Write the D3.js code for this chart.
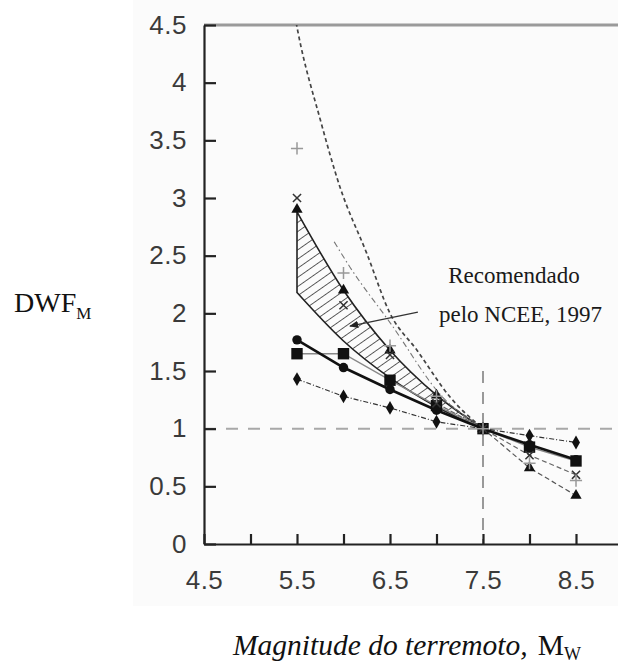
<!DOCTYPE html>
<html>
<head>
<meta charset="utf-8">
<script src="https://cdn.jsdelivr.net/npm/d3@7"></script>
<style>
  body { margin: 0; background: #fff; }
  svg { display: block; }
</style>
</head>
<body>
<div id="chart"></div>
<script>
// magnitudes where the symbols sit
const magnitudes = [5.5, 6.0, 6.5, 7.0, 7.5, 8.0, 8.5];

// series (DWF_M)
const circlesThick = [1.77, 1.53, 1.34, 1.16, 1.0, 0.86, 0.73];
const squares      = [1.65, 1.65, 1.42, 1.20, 1.0, 0.84, 0.72];
const diamonds     = [1.43, 1.28, 1.18, 1.06, 1.0, 0.94, 0.88];
const triangles    = [2.90, 2.20, 1.68, 1.29, 1.0, 0.66, 0.42];
const crosses      = [3.00, 2.07, 1.64, 1.22, 1.0, 0.77, 0.60];
const pluses       = [3.43, 2.35, 1.72, 1.28, 1.0, 0.70, 0.55];

// NCEE 1997 recommended band
const bandM     = [5.5, 6.0, 6.5, 7.0, 7.5];
const bandUpper = [2.88, 2.20, 1.68, 1.29, 1.0];
const bandLower = [2.18, 1.76, 1.44, 1.19, 1.0];

// the two dashed curves
const curveAM = [5.45, 5.51, 5.75, 5.96, 6.25, 6.5, 6.79, 7.15, 7.5];
const curveAV = [4.7, 4.44, 3.68, 3.10, 2.52, 2.0, 1.68, 1.27, 1.0];
const curveBM = [5.9, 6.07, 6.5, 7.07, 7.5];
const curveBV = [2.62, 2.40, 1.92, 1.27, 1.0];

const yTicks = [0, 0.5, 1, 1.5, 2, 2.5, 3, 3.5, 4, 4.5];
const xTicks = [4.5, 5, 5.5, 6, 6.5, 7, 7.5, 8, 8.5];
const xLabels = [4.5, 5.5, 6.5, 7.5, 8.5];

const width = 618, height = 666;

const svg = d3.select('#chart').append('svg')
    .attr('width', width)
    .attr('height', height);

const x = d3.scaleLinear().domain([4.5, 9]).range([204, 622.5]);
const y = d3.scaleLinear().domain([0, 4.5]).range([544, 25]);

// faint grey of the scanned plot
svg.append('rect')
    .attr('x', 133).attr('y', 0)
    .attr('width', width - 133).attr('height', 606)
    .attr('fill', '#fbfbfb');

const defs = svg.append('defs');
defs.append('clipPath').attr('id', 'plot')
  .append('rect')
    .attr('x', x(4.5)).attr('y', y(4.5))
    .attr('width', x(9) - x(4.5)).attr('height', y(0) - y(4.5));

defs.append('pattern')
    .attr('id', 'hatch')
    .attr('patternUnits', 'userSpaceOnUse')
    .attr('width', 7.5).attr('height', 8)
    .attr('patternTransform', 'rotate(55)')
  .append('line')
    .attr('x1', 0).attr('y1', 0).attr('x2', 0).attr('y2', 8)
    .attr('stroke', '#2a2a2a').attr('stroke-width', 1.5);

defs.append('marker')
    .attr('id', 'arrow')
    .attr('viewBox', '0 0 10 10')
    .attr('refX', 9).attr('refY', 5)
    .attr('markerWidth', 7).attr('markerHeight', 7)
    .attr('orient', 'auto')
  .append('path')
    .attr('d', 'M0,1 L10,5 L0,9 z')
    .attr('fill', '#222');

// top frame line
svg.append('line')
    .attr('x1', x(4.5)).attr('x2', width)
    .attr('y1', y(4.5)).attr('y2', y(4.5))
    .attr('stroke', '#9a9a9a').attr('stroke-width', 3);

// reference lines
svg.append('line')
    .attr('x1', x(4.5)).attr('x2', width)
    .attr('y1', y(1)).attr('y2', y(1))
    .attr('stroke', '#a8a8a8').attr('stroke-width', 2)
    .attr('stroke-dasharray', '12,10');
svg.append('line')
    .attr('x1', x(7.5)).attr('x2', x(7.5))
    .attr('y1', y(1.5)).attr('y2', y(0))
    .attr('stroke', '#999').attr('stroke-width', 2)
    .attr('stroke-dasharray', '12,9');

const plot = svg.append('g').attr('clip-path', 'url(#plot)');

const smooth = d3.line().x(d => x(d[0])).y(d => y(d[1])).curve(d3.curveMonotoneX);
const straight = d3.line().x(d => x(d[0])).y(d => y(d[1]));

// hatched band: upper edge forward, lower edge back
const upperPath = smooth(bandM.map((m, i) => [m, bandUpper[i]]));
const lowerPath = smooth(bandM.map((m, i) => [m, bandLower[i]]).reverse());
plot.append('path')
    .attr('d', upperPath + 'L' + lowerPath.slice(1) + 'Z')
    .attr('fill', 'url(#hatch)')
    .attr('stroke', '#222').attr('stroke-width', 1.6);

plot.append('path')
    .attr('d', smooth(curveAM.map((m, i) => [m, curveAV[i]])))
    .attr('fill', 'none').attr('stroke', '#444').attr('stroke-width', 1.7)
    .attr('stroke-dasharray', '4,3');
plot.append('path')
    .attr('d', smooth(curveBM.map((m, i) => [m, curveBV[i]])))
    .attr('fill', 'none').attr('stroke', '#777').attr('stroke-width', 1.1)
    .attr('stroke-dasharray', '6,3,1.5,3');

function pts(vals, from) {
  return magnitudes.map((m, i) => [m, vals[i]]).filter((d, i) => i >= (from || 0));
}

plot.append('path').attr('d', straight(pts(squares)))
    .attr('fill', 'none').attr('stroke', '#888').attr('stroke-width', 1.4);
plot.append('path').attr('d', straight(pts(diamonds)))
    .attr('fill', 'none').attr('stroke', '#333').attr('stroke-width', 1.2)
    .attr('stroke-dasharray', '5,2,1,2');
plot.append('path').attr('d', straight(pts(triangles, 3)))
    .attr('fill', 'none').attr('stroke', '#555').attr('stroke-width', 1.2)
    .attr('stroke-dasharray', '5,3');
plot.append('path').attr('d', straight(pts(crosses, 3)))
    .attr('fill', 'none').attr('stroke', '#666').attr('stroke-width', 1.2)
    .attr('stroke-dasharray', '5,3');
plot.append('path').attr('d', straight(pts(circlesThick)))
    .attr('fill', 'none').attr('stroke', '#111').attr('stroke-width', 2.6);

// symbols
function drawSymbols(vals, type, size, opts) {
  plot.append('g').selectAll('path')
    .data(pts(vals))
    .join('path')
      .attr('transform', d => `translate(${x(d[0])},${y(d[1])})`)
      .attr('d', d3.symbol().type(type).size(size))
      .attr('fill', opts.fill)
      .attr('stroke', opts.stroke || 'none')
      .attr('stroke-width', opts.sw || 0);
}
drawSymbols(squares, d3.symbolSquare, 130, { fill: '#111' });
drawSymbols(circlesThick, d3.symbolCircle, 70, { fill: '#111' });
drawSymbols(diamonds, d3.symbolDiamond, 55, { fill: '#111' });
drawSymbols(triangles, d3.symbolTriangle, 55, { fill: '#111' });
drawSymbols(crosses, d3.symbolTimes, 45, { fill: 'none', stroke: '#333', sw: 1.5 });
drawSymbols(pluses, d3.symbolCross2 || d3.symbolPlus, 50, { fill: 'none', stroke: '#999', sw: 1.5 });

// axes
const yAxis = d3.axisLeft(y).tickValues(yTicks)
    .tickSizeInner(-12).tickSizeOuter(0).tickPadding(17)
    .tickFormat(d3.format('~g'));
const gy = svg.append('g').attr('transform', `translate(${x(4.5)},0)`).call(yAxis);

const xAxis = d3.axisBottom(x).tickValues(xTicks)
    .tickSizeInner(-10).tickSizeOuter(0).tickPadding(27)
    .tickFormat(d => xLabels.includes(d) ? d3.format('.1f')(d) : '');
const gx = svg.append('g').attr('transform', `translate(0,${y(0)})`).call(xAxis);

[gx, gy].forEach(g => {
  g.select('.domain').attr('stroke', '#222').attr('stroke-width', 2.2);
  g.selectAll('.tick line').attr('stroke', '#222').attr('stroke-width', 2.2);
  g.selectAll('.tick text')
    .attr('font-family', 'Liberation Sans, Arial, sans-serif')
    .attr('font-size', 26)
    .attr('letter-spacing', 0.5)
    .attr('fill', '#3a3a3a');
});

// annotation
svg.append('line')
    .attr('x1', x(6.8)).attr('y1', y(2.01))
    .attr('x2', x(6.07)).attr('y2', y(1.89))
    .attr('stroke', '#333').attr('stroke-width', 1.3)
    .attr('marker-end', 'url(#arrow)');

const serif = 'Liberation Serif, Times New Roman, serif';
svg.append('text')
    .attr('x', 514).attr('y', 283)
    .attr('text-anchor', 'middle')
    .attr('font-family', serif).attr('font-size', 23).attr('fill', '#1a1a1a')
    .text('Recomendado');
svg.append('text')
    .attr('x', 439).attr('y', 322)
    .attr('font-family', serif).attr('font-size', 23).attr('fill', '#1a1a1a')
    .text('pelo NCEE, 1997');

// axis titles
const yt = svg.append('text')
    .attr('x', 14).attr('y', 312)
    .attr('font-family', serif).attr('font-size', 28).attr('fill', '#111');
yt.append('tspan').text('DWF');
yt.append('tspan').attr('font-size', 17).attr('dy', 7).text('M');

const xt = svg.append('text')
    .attr('x', 233).attr('y', 655)
    .attr('font-family', serif).attr('font-size', 29.5).attr('fill', '#111');
xt.append('tspan').attr('font-style', 'italic').text('Magnitude do terremoto,');
xt.append('tspan').attr('dx', 10).text('M');
xt.append('tspan').attr('font-size', 18).attr('dy', 5).text('W');
</script>
</body>
</html>
